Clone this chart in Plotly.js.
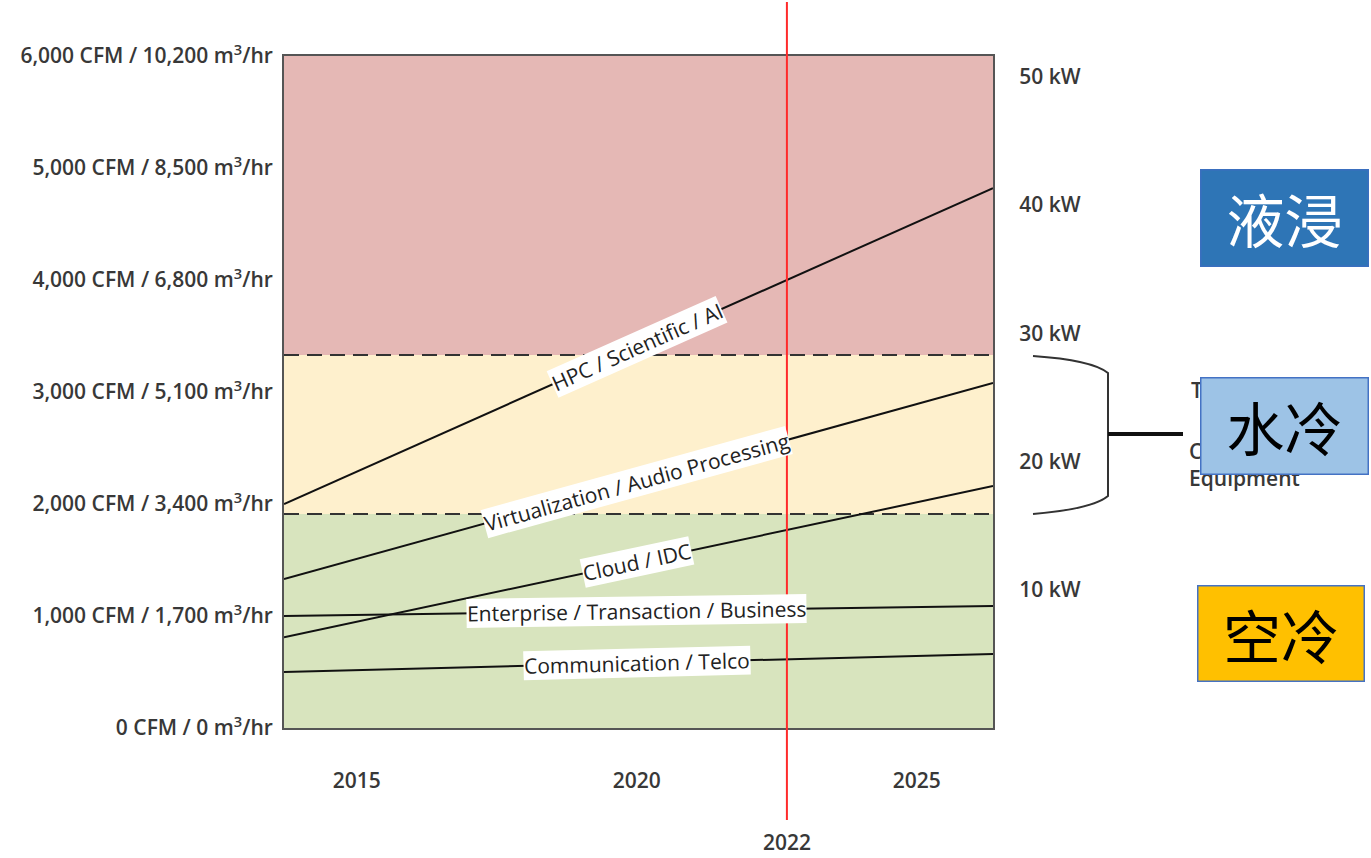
<!DOCTYPE html>
<html>
<head>
<meta charset="utf-8">
<script src="https://cdn.plot.ly/plotly-3.0.1.min.js"></script>
<style>html,body{margin:0;padding:0;background:#fff;}#chart{width:1371px;height:858px;}</style>
</head>
<body>
<div id="chart"></div>
<script>
// ---------- data ----------
const lineYears = [2013.7, 2026.36];            // start / end year of each trend line
const seriesNames = ['HPC / Scientific / AI', 'Virtualization / Audio Processing', 'Cloud / IDC',
                     'Enterprise / Transaction / Business', 'Communication / Telco'];
const hpcCFM   = [2000, 4820];
const virtCFM  = [1330, 3080];
const cloudCFM = [810, 2160];
const entCFM   = [1000, 1090];
const commCFM  = [500, 660];
const seriesValues = [hpcCFM, virtCFM, cloudCFM, entCFM, commCFM];
const labelYear = 2020;

const cfmTickVals = [0, 1000, 2000, 3000, 4000, 5000, 6000];
const cfmTickText = ['0 CFM / 0 m<sup>3</sup>/hr', '1,000 CFM / 1,700 m<sup>3</sup>/hr', '2,000 CFM / 3,400 m<sup>3</sup>/hr',
                     '3,000 CFM / 5,100 m<sup>3</sup>/hr', '4,000 CFM / 6,800 m<sup>3</sup>/hr',
                     '5,000 CFM / 8,500 m<sup>3</sup>/hr', '6,000 CFM / 10,200 m<sup>3</sup>/hr'];
const kwTickVals = [10, 20, 30, 40, 50];
const kwTickText = ['10 kW', '20 kW', '30 kW', '40 kW', '50 kW'];
const kwRange = [-0.76, 51.62];
const yearTickVals = [2015, 2020, 2025];
const yearTickText = ['2015', '2020', '2025'];

const airCoolMax = 1910;     // CFM: air-cooling band top
const waterCoolMax = 3330;   // CFM: water-cooling band top
const cfmMax = 6000;

const markerYear = 2022.68;
const markerLabel = '2022';

const coolingLabels = ['液浸', '水冷', '空冷'];
const braceTextTop = 'Traditional';
const braceTextBottom = 'Cooling<br>Equipment';

// ---------- layout geometry ----------
const W = 1371, H = 858;
const L = 284, T = 56, PW = 709, PH = 672;
const px2x = p => (p - L) / PW;
const px2y = p => (T + PH - p) / PH;
const xr = [lineYears[0], lineYears[1]];
const font = 'Open Sans, Liberation Sans, sans-serif';
const txt = '#383838';
const axFont = {family: font, size: 21, color: txt, weight: 600};

const traces = seriesValues.map((v, i) => ({
  x: lineYears, y: v, type: 'scatter', mode: 'lines', name: seriesNames[i],
  line: {color: '#111', width: 2}, hoverinfo: 'skip', showlegend: false
}));
// invisible companion on the kW axis so it is drawn
traces.push({x: [lineYears[0]], y: [kwTickVals[0]], yaxis: 'y2', type: 'scatter', mode: 'markers',
  marker: {opacity: 0}, hoverinfo: 'skip', showlegend: false});

const shapes = [
  {type: 'rect', xref: 'paper', yref: 'y', x0: 0, x1: 1, y0: 0, y1: airCoolMax, fillcolor: '#D8E4BE', line: {width: 0}, layer: 'below'},
  {type: 'rect', xref: 'paper', yref: 'y', x0: 0, x1: 1, y0: airCoolMax, y1: waterCoolMax, fillcolor: '#FEF0CD', line: {width: 0}, layer: 'below'},
  {type: 'rect', xref: 'paper', yref: 'y', x0: 0, x1: 1, y0: waterCoolMax, y1: cfmMax, fillcolor: '#E5B8B5', line: {width: 0}, layer: 'below'},
  {type: 'line', xref: 'paper', yref: 'y', x0: 0, x1: 1, y0: airCoolMax, y1: airCoolMax, line: {color: '#333', width: 2, dash: '15px,8px'}, layer: 'below'},
  {type: 'line', xref: 'paper', yref: 'y', x0: 0, x1: 1, y0: waterCoolMax, y1: waterCoolMax, line: {color: '#333', width: 2, dash: '15px,8px'}, layer: 'below'},
];
const markerPaperX = (markerYear - xr[0]) / (xr[1] - xr[0]);
shapes.push({type: 'line', xref: 'paper', yref: 'paper', x0: markerPaperX, x1: markerPaperX,
  y0: px2y(820), y1: px2y(2), line: {color: '#FF2A2A', width: 2}});

// brace
const P = (x, y) => px2x(x).toFixed(5) + ',' + px2y(y).toFixed(5);
shapes.push({type: 'path', xref: 'paper', yref: 'paper',
  path: 'M' + P(1033, 356) + ' Q' + P(1092, 360) + ' ' + P(1108, 373) + ' L' + P(1108, 496) +
        ' Q' + P(1092, 509) + ' ' + P(1033, 514),
  line: {color: '#333', width: 2}});
shapes.push({type: 'line', xref: 'paper', yref: 'paper', x0: px2x(1108), x1: px2x(1183), y0: px2y(434), y1: px2y(434),
  line: {color: '#111', width: 4}});

const annotations = [];
// labels along lines
const pxPerYear = PW / (xr[1] - xr[0]);
const pxPerCFM = PH / cfmMax;
seriesValues.forEach((v, i) => {
  const t = (labelYear - lineYears[0]) / (lineYears[1] - lineYears[0]);
  const yv = v[0] + t * (v[1] - v[0]);
  const ang = -Math.atan2((v[1] - v[0]) * pxPerCFM, (lineYears[1] - lineYears[0]) * pxPerYear) * 180 / Math.PI;
  annotations.push({x: labelYear, y: yv, xref: 'x', yref: 'y', text: seriesNames[i], showarrow: false,
    textangle: ang, xanchor: 'center', yanchor: 'middle', bgcolor: '#fff', borderpad: 0,
    font: {family: font, size: 21, color: '#222'}});
});
// marker label
annotations.push({x: markerPaperX, y: px2y(842), xref: 'paper', yref: 'paper', text: markerLabel, showarrow: false,
  xanchor: 'center', yanchor: 'middle', font: axFont});
// brace text (behind box)
const braceFont = {family: font, size: 21, color: txt, weight: 600};
annotations.push({x: px2x(1189), y: px2y(390), xref: 'paper', yref: 'paper', text: braceTextTop, showarrow: false,
  xanchor: 'left', yanchor: 'middle', align: 'left', font: braceFont});
annotations.push({x: px2x(1187), y: px2y(435), xref: 'paper', yref: 'paper', text: braceTextBottom, showarrow: false,
  xanchor: 'left', yanchor: 'top', align: 'left', font: braceFont});

// cooling boxes (drawn after the brace text so they cover it)
const boxes = [
  {x0: 1200, x1: 1368, y0: 170, y1: 267, fill: '#2E75B6', line: '#3A6FBF', color: '#fff'},
  {x0: 1200, x1: 1368, y0: 377, y1: 474, fill: '#9DC3E6', line: '#4472C4', color: '#000'},
  {x0: 1197, x1: 1364, y0: 585, y1: 681, fill: '#FFC000', line: '#4472C4', color: '#000'},
];
boxes.forEach((b, i) => {
  annotations.push({x: px2x((b.x0 + b.x1) / 2), y: px2y((b.y0 + b.y1) / 2), xref: 'paper', yref: 'paper',
    text: coolingLabels[i], showarrow: false, xanchor: 'center', yanchor: 'middle',
    width: b.x1 - b.x0 - 2, height: b.y1 - b.y0 - 2, borderpad: 0, borderwidth: 1.5,
    bgcolor: b.fill, bordercolor: b.line,
    font: {family: 'Noto Sans CJK SC, sans-serif', size: 58, color: b.color}});
});

const layout = {
  width: W, height: H,
  margin: {l: L, r: W - L - PW, t: T, b: H - T - PH, pad: 0},
  paper_bgcolor: '#fff', plot_bgcolor: 'rgba(0,0,0,0)',
  showlegend: false,
  xaxis: {range: xr, tickvals: yearTickVals, ticktext: yearTickText, showgrid: false, zeroline: false,
    showline: true, mirror: true, linecolor: '#555', linewidth: 2,
    ticks: 'outside', ticklen: 33, tickcolor: 'rgba(0,0,0,0)',
    tickfont: axFont, fixedrange: true},
  yaxis: {range: [0, cfmMax], tickvals: cfmTickVals, ticktext: cfmTickText, showgrid: false, zeroline: false,
    showline: true, mirror: true, linecolor: '#555', linewidth: 2,
    ticks: 'outside', ticklen: 5, tickcolor: 'rgba(0,0,0,0)',
    tickfont: axFont, fixedrange: true},
  yaxis2: {overlaying: 'y', side: 'right', range: kwRange, tickvals: kwTickVals, ticktext: kwTickText,
    showgrid: false, zeroline: false, showline: false,
    ticks: 'outside', ticklen: 21, tickcolor: 'rgba(0,0,0,0)',
    tickfont: axFont, fixedrange: true},
  shapes: shapes,
  annotations: annotations
};

Plotly.newPlot('chart', traces, layout, {displayModeBar: false, staticPlot: true});
</script>
</body>
</html>
